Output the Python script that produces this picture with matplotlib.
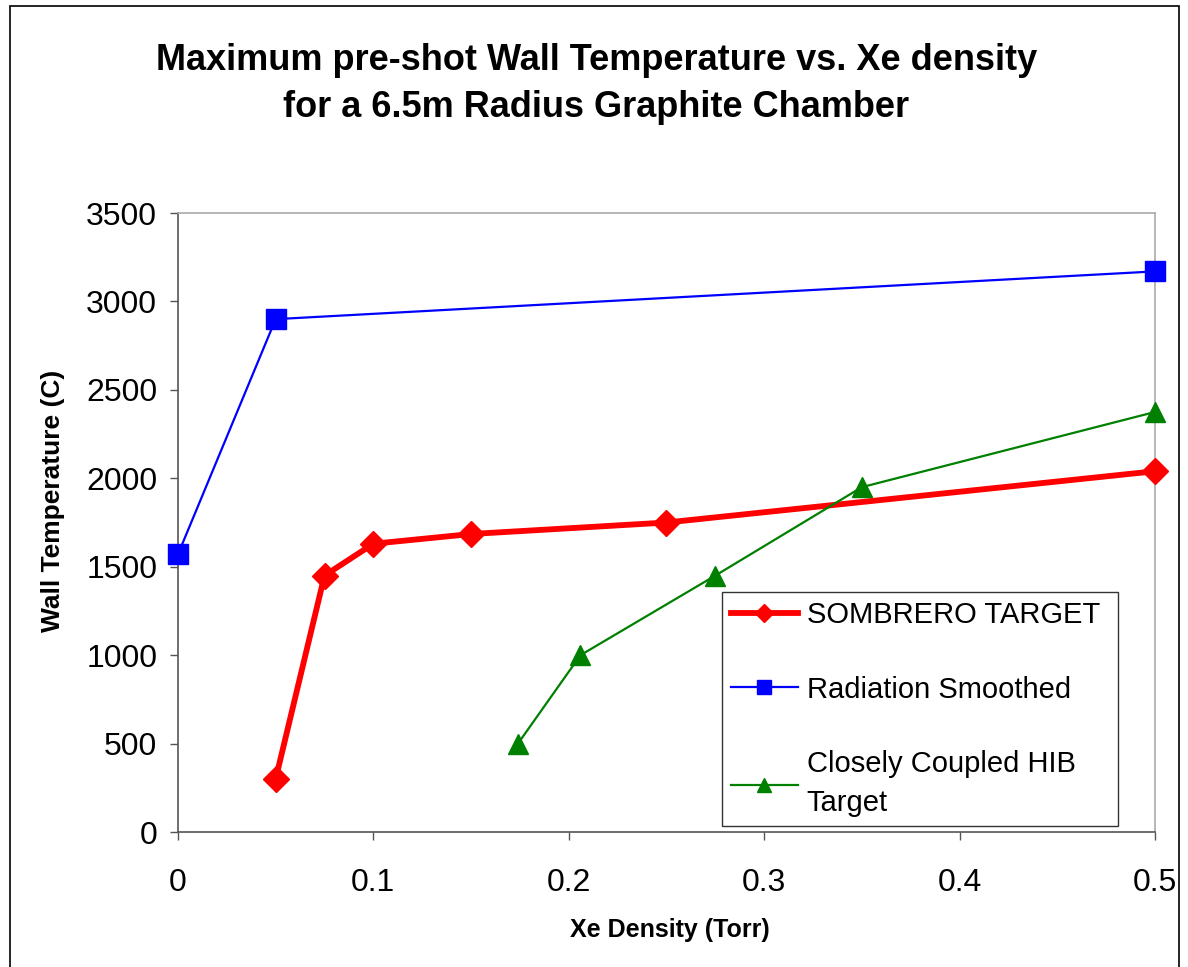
import matplotlib
matplotlib.use("Agg")
import matplotlib.pyplot as plt
from matplotlib.patches import Rectangle

plt.rcParams['font.family'] = ['Liberation Sans', 'DejaVu Sans']

# data
sombrero_x = [0.05, 0.075, 0.1, 0.15, 0.25, 0.5]
sombrero_y = [300, 1450, 1630, 1685, 1750, 2040]
radiation_x = [0.0, 0.05, 0.5]
radiation_y = [1570, 2900, 3170]
hib_x = [0.174, 0.206, 0.275, 0.35, 0.5]
hib_y = [500, 1000, 1450, 1950, 2375]
xticks = [0, 0.1, 0.2, 0.3, 0.4, 0.5]
xticklabels = ['0', '0.1', '0.2', '0.3', '0.4', '0.5']
yticks = list(range(0, 3501, 500))

fig = plt.figure(figsize=(11.88, 9.67), dpi=100)
# outer chart border
fig.patches.append(Rectangle((10 / 1188, -0.01), 1169 / 1188, 1.01 - 6 / 967,
                             transform=fig.transFigure, fill=False,
                             edgecolor='black', linewidth=1.2))
ax = fig.add_axes([0.1498, 0.1396, 0.8224, 0.6401])

ax.plot(sombrero_x, sombrero_y, color='#ff0000', lw=4.2, marker='D', ms=13,
        label='SOMBRERO TARGET', clip_on=False, zorder=3)
ax.plot(radiation_x, radiation_y, color='#0000ff', lw=1.6, marker='s', ms=15,
        label='Radiation Smoothed', clip_on=False, zorder=3)
ax.plot(hib_x, hib_y, color='#008000', lw=1.6, marker='^', ms=15,
        label='Closely Coupled HIB\nTarget', clip_on=False, zorder=3)

ax.set_xlim(0, 0.5)
ax.set_ylim(0, 3500)
ax.set_xticks(xticks)
ax.set_xticklabels(xticklabels)
ax.set_yticks(yticks)
ax.tick_params(axis='both', direction='out', length=6, width=1, color='#555555',
               labelsize=23)
ax.tick_params(axis='y', pad=9)
ax.tick_params(axis='x', pad=20)
for s in ['left', 'bottom']:
    ax.spines[s].set_color('#555555')
    ax.spines[s].set_linewidth(1.2)
for s in ['top', 'right']:
    ax.spines[s].set_color('#aaaaaa')
    ax.spines[s].set_linewidth(1.2)

ax.set_xlabel('Xe Density (Torr)', fontsize=18, fontweight='bold')
ax.xaxis.set_label_coords(0.503, -0.139)
ax.set_ylabel('Wall Temperature (C)', fontsize=19, fontweight='bold')
ax.yaxis.set_label_coords(-0.116, 0.535)

fig.text(0.502, 0.913, 'Maximum pre-shot Wall Temperature vs. Xe density\nfor a 6.5m Radius Graphite Chamber',
         ha='center', va='center', fontsize=26, fontweight='bold', linespacing=1.45)

leg = ax.legend(loc='lower left', bbox_to_anchor=(0.557, 0.0097, 0.405, 0.377),
                mode='expand', fontsize=21, frameon=True, fancybox=False,
                edgecolor='black', handlelength=2.3, handletextpad=0.3,
                labelspacing=1.6, markerscale=0.7, borderaxespad=0, borderpad=0.3)
leg.get_frame().set_linewidth(1.0)
leg.get_texts()[2].set_linespacing(1.5)

fig.savefig('out.png', dpi=100)
